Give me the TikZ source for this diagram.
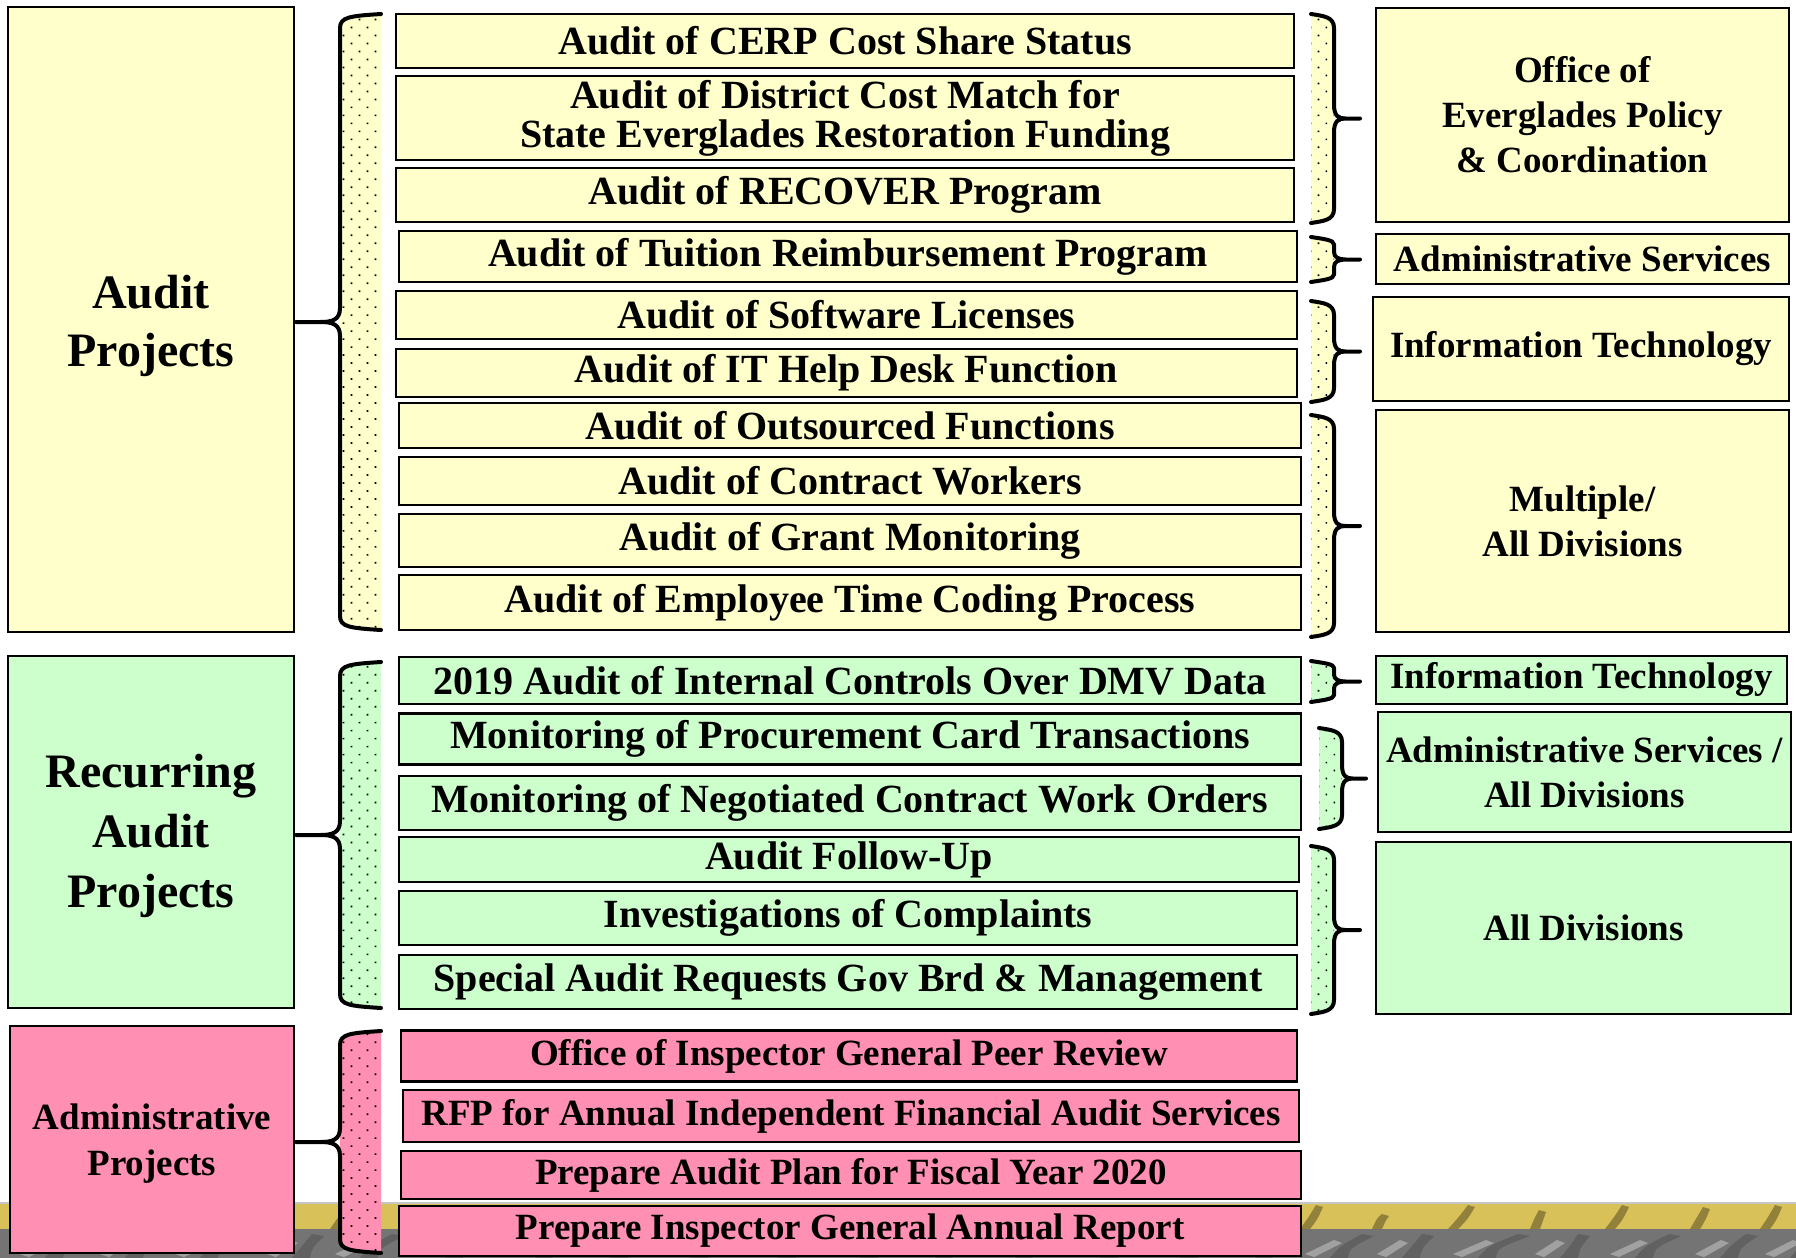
\documentclass[tikz,border=0pt]{standalone}
\usepackage{fontspec}
\setmainfont{Liberation Serif}
\usetikzlibrary{patterns.meta}

\definecolor{ylw}{HTML}{FFFFCC}
\definecolor{grn}{HTML}{CCFFCC}
\definecolor{pnk}{HTML}{FF8FB3}
\definecolor{bandyellow}{HTML}{D8C158}
\definecolor{bandgray}{HTML}{747474}

% Dotted bracket: #1 spine x, #2 dotted edge x, #3 tip x, #4 top y, #5 bottom y,
% #6 fill colour, #7 name of the tip coordinate
\newcommand\bracket[7]{%
  \pgfmathsetmacro\bkmid{(#4+#5)/2}%
  \pgfmathsetmacro\bksgn{ifthenelse(#2>#1,1,-1)}%
  \pgfmathsetmacro\bkr{min(14,(#5-#4)/6)}%
  \pgfmathsetmacro\bkc{(#3-#1)*0.45}%
  \path[fill=#6, postaction={pattern={Dots[distance=11.3pt,radius=1.2pt,angle=45]},pattern color=black}]
    (#2,#4) .. controls ({#1+\bksgn*10},{#4+2}) and (#1,{#4+3}) .. (#1,{#4+\bkr})
    -- (#1,{#5-\bkr}) .. controls (#1,{#5-3}) and ({#1+\bksgn*10},{#5-2}) .. (#2,#5) -- cycle;
  \coordinate (#7) at (#3,\bkmid);
  \draw[bracepen]
    (#2,#4) .. controls ({#1+\bksgn*10},{#4+2}) and (#1,{#4+3}) .. (#1,{#4+\bkr})
    -- (#1,{\bkmid-\bkr}) .. controls (#1,{\bkmid-2}) and ({#1+\bkc*0.4},\bkmid) .. ({#1+\bkc},\bkmid)
    -- (#7) -- ({#1+\bkc},\bkmid)
    .. controls ({#1+\bkc*0.4},\bkmid) and (#1,{\bkmid+2}) .. (#1,{\bkmid+\bkr})
    -- (#1,{#5-\bkr}) .. controls (#1,{#5-3}) and ({#1+\bksgn*10},{#5-2}) .. (#2,#5);
}
% invisible strut that lowers a multi-line label inside its box
\newcommand\toplift[1]{\rule{0pt}{#1}}

\begin{document}
\begin{tikzpicture}[x=1pt,y=-1pt,
  cell/.style={draw=black, line width=2.6pt, inner sep=0pt, align=center, text=black},
  midbox/.style={cell, font=\fontsize{40}{39}\selectfont\bfseries},
  adminbox/.style={cell, fill=pnk, font=\fontsize{37}{39}\selectfont\bfseries},
  bigbox/.style={cell, font=\fontsize{48}{58}\selectfont\bfseries},
  sidebox/.style={cell, font=\fontsize{37}{45}\selectfont\bfseries},
  bracepen/.style={draw=black, line width=4pt, line cap=round, line join=round}]

% page
\fill[white] (0,0) rectangle (1796,1258);
\useasboundingbox (0,0) rectangle (1796,1258);

% photo strip along the bottom edge
\fill[bandyellow] (0,1203) rectangle (1796,1229);
\fill[bandgray] (0,1229) rectangle (1796,1258);
\foreach \x/\w/\h in {15/14/22, 95/9/16, 170/18/24, 262/10/14, 330/16/23, 415/8/18, 505/20/24,
  580/12/15, 660/17/23, 748/9/20, 830/22/24, 905/11/17, 985/15/24, 1070/8/13, 1150/19/24,
  1225/12/21, 1300/16/24, 1372/10/15, 1448/20/24, 1530/9/19, 1605/17/24, 1690/13/22, 1760/15/24} {
  \fill[black!50!bandyellow, opacity=0.65]
    (\x,1229) .. controls (\x+0.5*\w,1218) .. (\x+\w,{1229-\h}) -- (\x+\w+7,{1229-\h+2})
    .. controls (\x+0.5*\w+9,1220) .. (\x+10,1229) -- cycle;
  \fill[black!65, opacity=0.7]
    (\x+30,1258) .. controls (\x+40,1246) .. (\x+30+2*\w,1234) -- (\x+42+2*\w,1236)
    .. controls (\x+50,1248) .. (\x+48,1258) -- cycle;
  \fill[white!70!gray, opacity=0.45]
    (\x+5,1254) -- (\x+18+\w,1240) -- (\x+26+\w,1243) -- (\x+14,1257) -- cycle;
}
\draw[gray!45, line width=1.5pt] (0,1203) -- (1796,1203);

% category boxes
\node[bigbox, fill=ylw, minimum width=286pt, minimum height=625pt] (ap) at (151,319.5) {\toplift{47pt}Audit\\Projects};
\node[bigbox, font=\fontsize{48}{60}\selectfont\bfseries, fill=grn, minimum width=286pt, minimum height=352pt] (rap) at (151,832) {\toplift{41pt}Recurring\\Audit\\Projects};
\node[cell, font=\fontsize{37}{46}\selectfont\bfseries, fill=pnk, minimum width=284pt, minimum height=227pt] (adp) at (152,1139.5) {\toplift{34pt}Administrative\\Projects};

% project boxes
\node[midbox, fill=ylw, minimum width=898pt, minimum height=54pt] (m1) at (845,41) {Audit of CERP Cost Share Status};
\node[midbox, fill=ylw, minimum width=898pt, minimum height=84pt] (m2) at (845,118) {Audit of District Cost Match for\\State Everglades Restoration Funding};
\node[midbox, fill=ylw, minimum width=898pt, minimum height=54pt] (m3) at (845,195) {Audit of RECOVER Program};
\node[midbox, fill=ylw, minimum width=898pt, minimum height=51pt] (m4) at (848,256.5) {Audit of Tuition Reimbursement Program};
\node[midbox, fill=ylw, minimum width=901pt, minimum height=48pt] (m5) at (846.5,315) {Audit of Software Licenses};
\node[midbox, fill=ylw, minimum width=901pt, minimum height=48pt] (m6) at (846.5,373) {Audit of IT Help Desk Function};
\node[midbox, fill=ylw, minimum width=902pt, minimum height=45pt] (m7) at (850,425.5) {Audit of Outsourced Functions};
\node[midbox, fill=ylw, minimum width=902pt, minimum height=48pt] (m8) at (850,481) {Audit of Contract Workers};
\node[midbox, fill=ylw, minimum width=902pt, minimum height=53pt] (m9) at (850,540.5) {Audit of Grant Monitoring};
\node[midbox, fill=ylw, minimum width=902pt, minimum height=55pt] (m10) at (850,602.5) {Audit of Employee Time Coding Process};

\node[midbox, fill=grn, minimum width=902pt, minimum height=47pt] (m11) at (850,680.5) {2019 Audit of Internal Controls Over DMV Data};
\node[midbox, fill=grn, minimum width=902pt, minimum height=51pt] (m12) at (850,739) {Monitoring of Procurement Card Transactions};
\node[midbox, fill=grn, minimum width=902pt, minimum height=54pt] (m13) at (850,803) {Monitoring of Negotiated Contract Work Orders};
\node[midbox, fill=grn, minimum width=900pt, minimum height=45pt] (m14) at (849,859.5) {Audit Follow-Up};
\node[midbox, fill=grn, minimum width=898pt, minimum height=54pt] (m15) at (848,918) {Investigations of Complaints};
\node[midbox, fill=grn, minimum width=898pt, minimum height=54pt] (m16) at (848,982) {Special Audit Requests Gov Brd \& Management};

\node[adminbox, minimum width=896pt, minimum height=51pt] (m17) at (849,1056) {Office of Inspector General Peer Review};
\node[adminbox, minimum width=896pt, minimum height=52pt] (m18) at (851,1116) {RFP for Annual Independent Financial Audit Services};
\node[adminbox, minimum width=900pt, minimum height=48pt] (m19) at (851,1175) {Prepare Audit Plan for Fiscal Year 2020};
\node[adminbox, minimum width=902pt, minimum height=50pt] (m20) at (850,1231) {Prepare Inspector General Annual Report};

% owning divisions
\node[sidebox, fill=ylw, minimum width=413pt, minimum height=214pt] (r1) at (1582.5,115) {Office of\\Everglades Policy\\\& Coordination};
\node[sidebox, fill=ylw, minimum width=413pt, minimum height=50pt] (r2) at (1582.5,259) {Administrative Services};
\node[sidebox, fill=ylw, minimum width=416pt, minimum height=104pt] (r3) at (1581,349) {Information Technology};
\node[sidebox, fill=ylw, minimum width=413pt, minimum height=222pt] (r4) at (1582.5,521) {Multiple/\\All Divisions};
\node[sidebox, fill=grn, minimum width=411pt, minimum height=48pt] (r5) at (1581.5,680) {Information Technology};
\node[sidebox, fill=grn, minimum width=413pt, minimum height=120pt] (r6) at (1584.5,772) {Administrative Services /\\All Divisions};
\node[sidebox, fill=grn, minimum width=415pt, minimum height=172pt] (r7) at (1583.5,928) {All Divisions};

% brackets from the categories to their projects
\bracket{340}{381}{296}{14}{630}{ylw}{tipap}
\bracket{340}{381}{296}{662}{1008}{grn}{tiprap}
\bracket{340}{381}{296}{1031}{1253}{pnk}{tipadp}

% brackets from the projects to the divisions
\bracket{1334}{1311}{1360}{14}{223}{ylw}{tipr1}
\bracket{1334}{1311}{1360}{237}{282}{ylw}{tipr2}
\bracket{1334}{1311}{1360}{301}{402}{ylw}{tipr3}
\bracket{1334}{1311}{1360}{415}{637}{ylw}{tipr4}
\bracket{1334}{1311}{1360}{661}{702}{grn}{tipr5}
\bracket{1342}{1319}{1366}{728}{829}{grn}{tipr6}
\bracket{1334}{1311}{1360}{846}{1014}{grn}{tipr7}
\end{tikzpicture}
\end{document}
